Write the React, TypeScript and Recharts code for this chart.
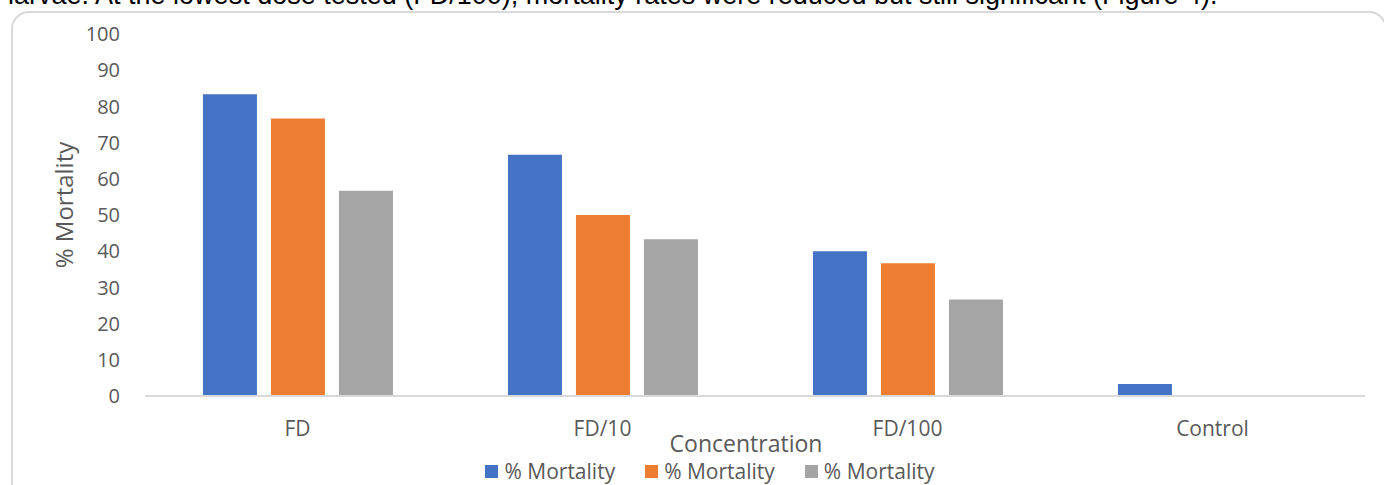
import React from 'react';
import { BarChart, Bar, XAxis, YAxis, Legend, Label } from 'recharts';

const CONCENTRATIONS = ['FD', 'FD/10', 'FD/100', 'Control'];
const MORTALITY_1 = [83.33, 66.67, 40, 3.33];
const MORTALITY_2 = [76.67, 50, 36.67, 0];
const MORTALITY_3 = [56.67, 43.33, 26.67, 0];
const Y_TICKS = [0, 10, 20, 30, 40, 50, 60, 70, 80, 90, 100];

const SERIES = [
  { key: 'm1', name: '% Mortality', color: '#4472C4' },
  { key: 'm2', name: '% Mortality', color: '#ED7D31' },
  { key: 'm3', name: '% Mortality', color: '#A5A5A5' },
];

const data = CONCENTRATIONS.map((c, i) => ({
  concentration: c,
  m1: MORTALITY_1[i],
  m2: MORTALITY_2[i],
  m3: MORTALITY_3[i],
}));

const FONT = '"Open Sans", sans-serif';
const TEXT = '#595959';

const YTitle = (props: any) => {
  const { viewBox } = props;
  const cx = 63;
  const cy = viewBox.y + viewBox.height / 2 - 10;
  return (
    <text
      x={cx}
      y={cy}
      transform={`rotate(-90 ${cx} ${cy})`}
      textAnchor="middle"
      dominantBaseline="central"
      fill={TEXT}
      fontSize={24}
      fontFamily={FONT}
    >
      % Mortality
    </text>
  );
};

const LegendRow = (props: any) => (
  <div style={{ display: 'flex', justifyContent: 'center', paddingLeft: 66, fontFamily: FONT, fontSize: 21, color: TEXT }}>
    {props.payload.map((p: any, i: number) => (
      <div key={i} style={{ display: 'flex', alignItems: 'center', marginRight: 30 }}>
        <span style={{ width: 13, height: 13, background: p.color, marginRight: 6, display: 'inline-block' }} />
        <span>{p.value}</span>
      </div>
    ))}
  </div>
);

export default function App() {
  return (
    <div style={{ position: 'absolute', left: 0, top: 0, width: 1384, height: 485, overflow: 'hidden', background: '#fff' }}>
      <div
        style={{
          position: 'absolute', left: 8, top: -18, whiteSpace: 'nowrap',
          fontFamily: '"Liberation Sans", Arial, sans-serif', fontSize: 27, lineHeight: '27px', color: '#000',
        }}
      >
        larvae. At the lowest dose tested (FD/100), mortality rates were reduced but still significant (Figure 4).
      </div>
      <div
        style={{
          position: 'absolute', left: 11, top: 11, width: 1376, height: 520,
          border: '2px solid #d9d9d9', borderRadius: 18, boxSizing: 'border-box',
        }}
      />
      <div style={{ position: 'absolute', left: 0, top: 0 }}>
        <BarChart
          width={1384}
          height={485}
          data={data}
          margin={{ top: 34, right: 19, bottom: 0, left: 0 }}
          barCategoryGap="19%"
          barGap={14}
        >
          <XAxis
            dataKey="concentration"
            height={89}
            tickLine={false}
            tickSize={0}
            tickMargin={25}
            axisLine={{ stroke: '#d9d9d9', strokeWidth: 2 }}
            tick={{ fill: TEXT, fontSize: 21, fontFamily: FONT }}
          >
            <Label
              value="Concentration"
              position="insideBottom"
              offset={33}
              dx={-9}
              fill={TEXT}
              fontSize={23}
              fontFamily={FONT}
            />
          </XAxis>
          <YAxis
            width={145}
            domain={[0, 100]}
            ticks={Y_TICKS}
            interval={0}
            axisLine={false}
            tickLine={false}
            tickSize={0}
            tickMargin={25}
            tick={{ fill: TEXT, fontSize: 20, fontFamily: FONT }}
          >
            <Label content={YTitle} />
          </YAxis>
          <Legend
            content={LegendRow}
            wrapperStyle={{ position: 'absolute', top: 457, left: 0, width: 1384, height: 0, overflow: 'visible' }}
          />
          {SERIES.map((s) => (
            <Bar key={s.key} dataKey={s.key} name={s.name} fill={s.color} isAnimationActive={false} />
          ))}
        </BarChart>
      </div>
    </div>
  );
}
